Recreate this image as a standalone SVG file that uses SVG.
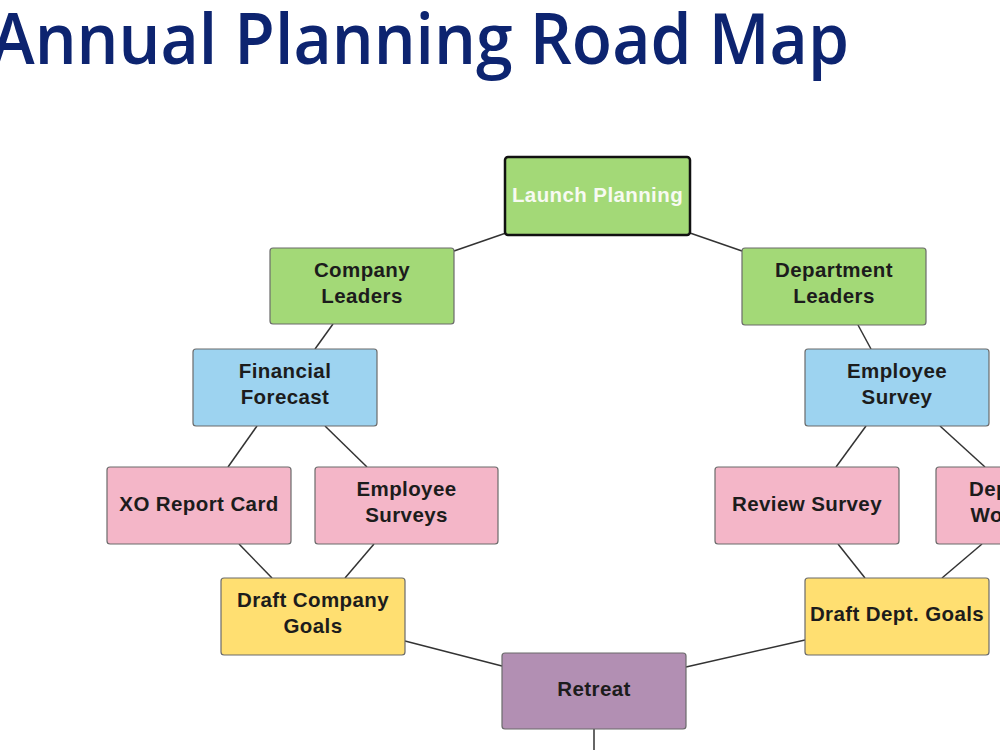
<svg xmlns="http://www.w3.org/2000/svg" width="1000" height="750" viewBox="0 0 1000 750">
<style>
.n rect{stroke:#6b6b6b;stroke-width:1.2}
.t{font-family:"Liberation Sans",Arial,sans-serif;font-weight:bold;font-size:20.5px;letter-spacing:0.4px;fill:#1c1c1c;text-anchor:middle}
.g rect{fill:#a3d977}
.b rect{fill:#9dd3f0}
.p rect{fill:#f4b6c8}
.y rect{fill:#ffdf71}
.v rect{fill:#b28fb3}
#connectors line{stroke:#333;stroke-width:1.5}
</style>
<rect width="1000" height="750" fill="#fff"/>
<text x="849" y="64" font-family="'Open Sans',sans-serif" font-weight="600" font-size="71" fill="#0d2470" text-anchor="end" textLength="858" lengthAdjust="spacingAndGlyphs">Annual Planning Road Map</text>
<g id="connectors">
<line x1="454" y1="251" x2="506" y2="233"/>
<line x1="690" y1="233" x2="742" y2="251"/>
<line x1="333" y1="324" x2="315" y2="349"/>
<line x1="858" y1="325" x2="871" y2="349"/>
<line x1="257" y1="426" x2="228" y2="467"/>
<line x1="325" y1="426" x2="367" y2="467"/>
<line x1="866" y1="426" x2="836" y2="467"/>
<line x1="940" y1="426" x2="985" y2="467"/>
<line x1="239" y1="544" x2="272" y2="578"/>
<line x1="374" y1="544" x2="345" y2="578"/>
<line x1="838" y1="544" x2="865" y2="578"/>
<line x1="982" y1="544" x2="942" y2="578"/>
<line x1="405" y1="641" x2="502" y2="666"/>
<line x1="805" y1="640" x2="686" y2="667"/>
<line x1="594" y1="729" x2="594" y2="750"/>
</g>
<g id="launch" class="n g"><rect x="505" y="157" width="185" height="78" rx="3" style="stroke:#111;stroke-width:2.5"/><text class="t" x="597.5" y="202" style="fill:#f7faf2">Launch Planning</text></g>
<g id="company-leaders" class="n g"><rect x="270" y="248" width="184" height="76" rx="3"/><text class="t" x="362" y="277">Company</text><text class="t" x="362" y="303">Leaders</text></g>
<g id="department-leaders" class="n g"><rect x="742" y="248" width="184" height="77" rx="3"/><text class="t" x="834" y="277">Department</text><text class="t" x="834" y="303">Leaders</text></g>
<g id="financial-forecast" class="n b"><rect x="193" y="349" width="184" height="77" rx="3"/><text class="t" x="285" y="378">Financial</text><text class="t" x="285" y="404">Forecast</text></g>
<g id="employee-survey" class="n b"><rect x="805" y="349" width="184" height="77" rx="3"/><text class="t" x="897" y="378">Employee</text><text class="t" x="897" y="404">Survey</text></g>
<g id="xo-report-card" class="n p"><rect x="107" y="467" width="184" height="77" rx="3"/><text class="t" x="199" y="511">XO Report Card</text></g>
<g id="employee-surveys" class="n p"><rect x="315" y="467" width="183" height="77" rx="3"/><text class="t" x="406.5" y="496">Employee</text><text class="t" x="406.5" y="522">Surveys</text></g>
<g id="review-survey" class="n p"><rect x="715" y="467" width="184" height="77" rx="3"/><text class="t" x="807" y="511">Review Survey</text></g>
<g id="department-workshops" class="n p"><rect x="936" y="467" width="184" height="77" rx="3"/><text class="t" x="1028" y="496">Department</text><text class="t" x="1028" y="522">Workshops</text></g>
<g id="draft-company-goals" class="n y"><rect x="221" y="578" width="184" height="77" rx="3"/><text class="t" x="313" y="607">Draft Company</text><text class="t" x="313" y="633">Goals</text></g>
<g id="draft-dept-goals" class="n y"><rect x="805" y="578" width="184" height="77" rx="3"/><text class="t" x="897" y="621">Draft Dept. Goals</text></g>
<g id="retreat" class="n v"><rect x="502" y="653" width="184" height="76" rx="3"/><text class="t" x="594" y="696">Retreat</text></g>
</svg>
